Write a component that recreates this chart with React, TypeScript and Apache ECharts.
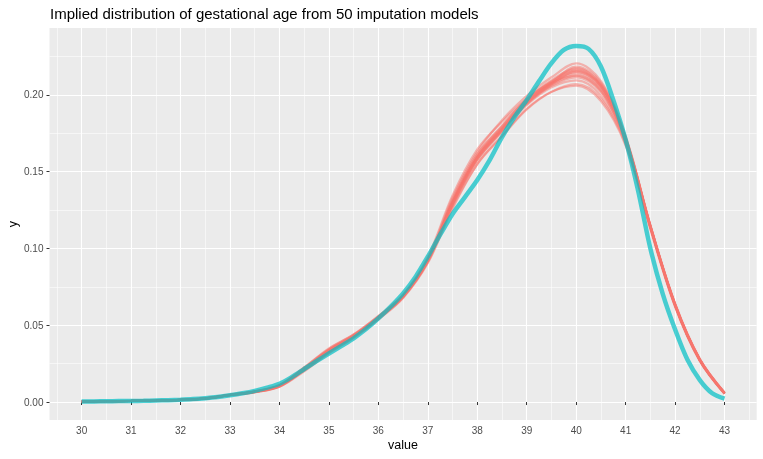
import React, { useEffect, useRef } from "react";
import * as echarts from "echarts";

const TITLE = "Implied distribution of gestational age from 50 imputation models";
const X_NAME = "value";
const Y_NAME = "y";

const X_TICKS = [30, 31, 32, 33, 34, 35, 36, 37, 38, 39, 40, 41, 42, 43];
const Y_TICKS = [0, 0.05, 0.1, 0.15, 0.2];

// observed density (teal), x step 0.25
const OBS_X = [
  30, 30.25, 30.5, 30.75, 31, 31.25, 31.5, 31.75, 32, 32.25, 32.5, 32.75, 33, 33.25, 33.5, 33.75,
  34, 34.25, 34.5, 34.75, 35, 35.25, 35.5, 35.75, 36, 36.25, 36.5, 36.75, 37, 37.25, 37.5, 37.75,
  38, 38.25, 38.5, 38.75, 39, 39.25, 39.5, 39.75, 40, 40.25, 40.5, 40.75, 41, 41.25, 41.5, 41.75,
  42, 42.25, 42.5, 42.75, 43,
];
const OBS_Y = [
  0.0003, 0.0004, 0.0005, 0.0006, 0.0007, 0.0008, 0.001, 0.0012, 0.0015, 0.0019, 0.0025, 0.0033,
  0.0044, 0.0057, 0.0073, 0.0094, 0.0119, 0.0163, 0.0215, 0.0266, 0.0316, 0.0365, 0.0415, 0.0475,
  0.0545, 0.0622, 0.0708, 0.0815, 0.0947, 0.109, 0.1225, 0.1335, 0.1446, 0.1575, 0.1725, 0.1855,
  0.1967, 0.209, 0.2207, 0.2293, 0.2319, 0.23, 0.2185, 0.1967, 0.1707, 0.138, 0.1, 0.0705, 0.0472,
  0.0275, 0.0143, 0.0057, 0.0022,
];

// imputed densities (red), x step 0.5
const IMP_X = [
  30, 30.5, 31, 31.5, 32, 32.5, 33, 33.5, 34, 34.5, 35, 35.5, 36, 36.5, 37, 37.5, 38, 38.5, 39,
  39.5, 40, 40.5, 41, 41.5, 42, 42.5, 43,
];
const IMP_0 = [0.0003, 0.0005, 0.0007, 0.001, 0.0014, 0.0023, 0.0046, 0.0067, 0.0106, 0.0215, 0.0335, 0.043, 0.055, 0.069, 0.0925, 0.13, 0.1595, 0.178, 0.1955, 0.2076, 0.2141, 0.2043, 0.1707, 0.1142, 0.0632, 0.0274, 0.0057];
const IMP_1 = [0.0003, 0.0005, 0.0007, 0.001, 0.0015, 0.0025, 0.0048, 0.007, 0.0112, 0.0225, 0.035, 0.044, 0.056, 0.0695, 0.0935, 0.133, 0.163, 0.1835, 0.1995, 0.2115, 0.2205, 0.209, 0.173, 0.1152, 0.0642, 0.0282, 0.0062];
const IMP_2 = [0.0003, 0.0005, 0.0007, 0.001, 0.0014, 0.0022, 0.0044, 0.0064, 0.01, 0.0205, 0.032, 0.042, 0.054, 0.068, 0.091, 0.127, 0.155, 0.173, 0.1905, 0.202, 0.207, 0.1975, 0.168, 0.1128, 0.0622, 0.0267, 0.0053];
const IMP_3 = [0.0003, 0.0005, 0.0007, 0.001, 0.0014, 0.0024, 0.0047, 0.0069, 0.011, 0.0222, 0.0342, 0.0435, 0.0552, 0.0688, 0.092, 0.131, 0.161, 0.18, 0.1975, 0.2095, 0.2175, 0.207, 0.172, 0.1145, 0.0633, 0.0275, 0.0058];
const IMP_4 = [0.0003, 0.0005, 0.0007, 0.001, 0.0014, 0.0023, 0.0045, 0.0066, 0.0104, 0.021, 0.033, 0.0428, 0.0548, 0.0692, 0.093, 0.129, 0.158, 0.1765, 0.194, 0.206, 0.2115, 0.202, 0.17, 0.114, 0.063, 0.0272, 0.0056];
const IMP_5 = [0.0003, 0.0005, 0.0007, 0.001, 0.0014, 0.0023, 0.0046, 0.0068, 0.0108, 0.0218, 0.0338, 0.0432, 0.0555, 0.0695, 0.0928, 0.1305, 0.16, 0.179, 0.1965, 0.2085, 0.216, 0.206, 0.1715, 0.1148, 0.0636, 0.0276, 0.0058];
const IMP_6 = [0.0003, 0.0005, 0.0007, 0.001, 0.0014, 0.0022, 0.0045, 0.0065, 0.0102, 0.0208, 0.0325, 0.0425, 0.0545, 0.0685, 0.0918, 0.1285, 0.1575, 0.176, 0.1935, 0.205, 0.2095, 0.1995, 0.169, 0.1138, 0.0628, 0.0271, 0.0056];
const IMP_7 = [0.0003, 0.0005, 0.0007, 0.001, 0.0014, 0.0022, 0.0044, 0.0063, 0.0099, 0.02, 0.0318, 0.0418, 0.0538, 0.0678, 0.0905, 0.126, 0.155, 0.1735, 0.191, 0.202, 0.206, 0.196, 0.167, 0.1128, 0.0622, 0.0268, 0.0054];
const IMP_8 = [0.0003, 0.0005, 0.0007, 0.001, 0.0015, 0.0024, 0.0047, 0.0069, 0.011, 0.0225, 0.0345, 0.044, 0.056, 0.07, 0.0945, 0.1345, 0.1645, 0.1825, 0.1975, 0.208, 0.2125, 0.2025, 0.17, 0.114, 0.063, 0.0273, 0.0057];
const IMP_9 = [0.0003, 0.0005, 0.0007, 0.001, 0.0014, 0.0023, 0.0046, 0.0067, 0.0105, 0.0212, 0.0332, 0.043, 0.0552, 0.0688, 0.0922, 0.1295, 0.159, 0.1775, 0.195, 0.207, 0.215, 0.2055, 0.1712, 0.1145, 0.0634, 0.0275, 0.0057];
const IMP_10 = [0.0003, 0.0005, 0.0007, 0.001, 0.0014, 0.0023, 0.0046, 0.0067, 0.0107, 0.0216, 0.0336, 0.0432, 0.055, 0.069, 0.0926, 0.13, 0.1595, 0.178, 0.1958, 0.2078, 0.2185, 0.208, 0.1725, 0.115, 0.0638, 0.0277, 0.0059];
const IMP_11 = [0.0003, 0.0005, 0.0007, 0.001, 0.0014, 0.0023, 0.0046, 0.0066, 0.0104, 0.0213, 0.0334, 0.0428, 0.0548, 0.0686, 0.0918, 0.1285, 0.158, 0.177, 0.1945, 0.2065, 0.2128, 0.2035, 0.1705, 0.1144, 0.0635, 0.0276, 0.0059];
const IMP_12 = [0.0003, 0.0005, 0.0007, 0.001, 0.0014, 0.0023, 0.0046, 0.0068, 0.0107, 0.0217, 0.0337, 0.0433, 0.0552, 0.0691, 0.0927, 0.1315, 0.1615, 0.1795, 0.197, 0.2088, 0.2168, 0.2065, 0.1718, 0.1146, 0.0635, 0.0276, 0.0058];
const IMP_13 = [0.0003, 0.0005, 0.0007, 0.001, 0.0014, 0.0023, 0.0045, 0.0066, 0.0105, 0.0214, 0.0333, 0.0429, 0.0549, 0.0689, 0.0923, 0.1292, 0.1588, 0.1772, 0.1948, 0.2072, 0.2155, 0.2058, 0.1713, 0.1145, 0.0634, 0.0275, 0.0057];
const IMPUTED = [IMP_0, IMP_1, IMP_2, IMP_3, IMP_4, IMP_5, IMP_6, IMP_7, IMP_8, IMP_9, IMP_10, IMP_11, IMP_12, IMP_13];

const FONT = '"Liberation Sans", Arial, Helvetica, sans-serif';

export default function App() {
  const ref = useRef<HTMLDivElement>(null);
  useEffect(() => {
    if (!ref.current) return;
    const chart = echarts.init(ref.current, null, { renderer: "svg" });
    const redSeries = IMPUTED.map((ys, i) => ({
      type: "line",
      name: "imp" + i,
      data: IMP_X.map((x, j) => [x, ys[j]]),
      symbol: "none",
      smooth: 0.35,
      silent: true,
      z: 2,
      lineStyle: { color: "#F8766D", width: 2.2, opacity: 0.5 },
    }));
    const option: any = {
      animation: false,
      textStyle: { fontFamily: FONT },
      grid: {
        left: 49.5,
        right: 6.3,
        top: 28,
        bottom: 39,
        show: true,
        backgroundColor: "#EBEBEB",
        borderWidth: 0,
      },
      xAxis: {
        type: "value",
        min: 29.35,
        max: 43.65,
        minInterval: 1,
        maxInterval: 1,
        axisLine: { show: false },
        axisTick: { show: true, length: 3, customValues: X_TICKS, lineStyle: { color: "#333333", width: 1 } },
        axisLabel: {
          customValues: X_TICKS,
          margin: 5,
          color: "#4D4D4D",
          fontSize: 10,
          fontFamily: FONT,
          formatter: (v: number) => String(v),
        },
        splitLine: { show: true, lineStyle: { color: "#FFFFFF", width: 1.1 } },
        minorTick: { show: false, splitNumber: 2 },
        minorSplitLine: { show: true, lineStyle: { color: "#FFFFFF", width: 0.55 } },
      },
      yAxis: {
        type: "value",
        min: -0.0117,
        max: 0.2436,
        minInterval: 0.05,
        maxInterval: 0.05,
        axisLine: { show: false },
        axisTick: { show: true, length: 3, customValues: Y_TICKS, lineStyle: { color: "#333333", width: 1 } },
        axisLabel: {
          customValues: Y_TICKS,
          margin: 6,
          color: "#4D4D4D",
          fontSize: 10,
          fontFamily: FONT,
          formatter: (v: number) => v.toFixed(2),
        },
        splitLine: { show: true, lineStyle: { color: "#FFFFFF", width: 1.1 } },
        minorTick: { show: false, splitNumber: 2 },
        minorSplitLine: { show: true, lineStyle: { color: "#FFFFFF", width: 0.55 } },
      },
      graphic: [
        {
          type: "text",
          x: 50,
          y: 13.8,
          style: { text: TITLE, fontSize: 15, fontFamily: FONT, fill: "#000000", align: "left", verticalAlign: "middle" },
        },
        {
          type: "text",
          x: 403,
          y: 444.7,
          style: { text: X_NAME, fontSize: 12.5, fontFamily: FONT, fill: "#000000", align: "center", verticalAlign: "middle" },
        },
        {
          type: "text",
          x: 12.5,
          y: 224,
          rotation: Math.PI / 2,
          style: { text: Y_NAME, fontSize: 12.5, fontFamily: FONT, fill: "#000000", align: "center", verticalAlign: "middle" },
        },
      ],
      series: [
        ...redSeries,
        {
          type: "line",
          name: "observed",
          data: OBS_X.map((x, j) => [x, OBS_Y[j]]),
          symbol: "none",
          smooth: 0.3,
          silent: true,
          z: 3,
          lineStyle: { color: "#00BFC4", width: 4.5, opacity: 0.7 },
        },
      ],
    };
    chart.setOption(option);
    return () => chart.dispose();
  }, []);
  return (
    <div
      ref={ref}
      style={{ position: "fixed", left: 0, top: 0, width: 763, height: 459 }}
    />
  );
}
